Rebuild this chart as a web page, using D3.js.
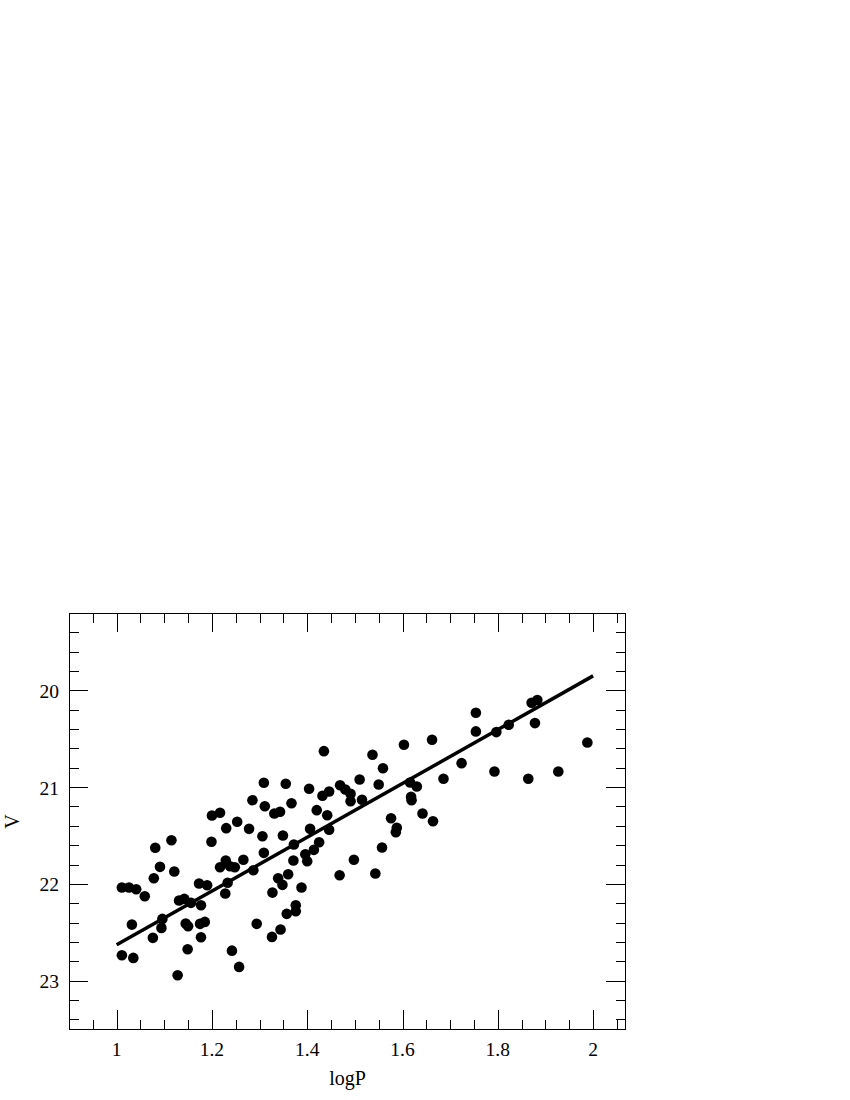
<!DOCTYPE html>
<html>
<head>
<meta charset="utf-8">
<script src="https://cdn.jsdelivr.net/npm/d3@7"></script>
<style>
  body { margin: 0; background: #fff; }
  svg { display: block; }
  text { font-family: "Liberation Serif", "DejaVu Serif", serif; fill: #000; }
</style>
</head>
<body>
<svg id="chart" width="850" height="1100"></svg>
<script>
// ---- data ----
const logP = [
  1.285,1.200,1.217,1.253,1.230,1.278,1.306,1.115,1.199,1.081,
  1.091,1.121,1.078,1.011,1.026,1.041,1.059,1.217,1.229,1.238,
  1.248,1.266,1.287,1.233,1.228,1.173,1.190,1.131,1.142,1.156,
  1.177,1.096,1.094,1.032,1.145,1.150,1.175,1.185,1.177,1.076,
  1.149,1.242,1.257,1.011,1.035,1.128,1.294,
  1.435,1.537,1.603,1.662,1.559,1.686,1.309,1.355,1.510,1.550,
  1.469,1.480,1.491,1.491,1.404,1.432,1.446,1.515,1.311,1.367,
  1.331,1.343,1.420,1.442,1.618,1.619,1.616,1.630,1.576,1.642,
  1.664,1.349,1.406,1.446,1.588,1.586,1.557,1.309,1.372,1.425,
  1.414,1.396,1.400,1.371,1.498,1.339,1.348,1.360,1.468,1.543,
  1.388,1.327,1.376,1.376,1.357,1.344,1.326,
  1.883,1.871,1.754,1.754,1.797,1.823,1.878,1.988,1.724,1.793,
  1.864,1.927
];
const Vmag = [
  21.135,21.293,21.265,21.358,21.424,21.431,21.507,21.549,21.565,21.627,
  21.824,21.872,21.942,22.038,22.038,22.055,22.128,21.828,21.759,21.818,
  21.828,21.751,21.859,21.989,22.100,21.996,22.014,22.172,22.155,22.196,
  22.221,22.362,22.455,22.421,22.410,22.438,22.413,22.393,22.552,22.558,
  22.676,22.690,22.858,22.738,22.765,22.945,22.413,
  20.628,20.665,20.562,20.510,20.804,20.913,20.955,20.965,20.921,20.972,
  20.980,21.024,21.069,21.145,21.017,21.089,21.045,21.131,21.197,21.166,
  21.272,21.255,21.238,21.290,21.100,21.135,20.952,20.993,21.321,21.272,
  21.352,21.500,21.431,21.441,21.420,21.466,21.624,21.679,21.593,21.569,
  21.648,21.693,21.766,21.759,21.751,21.942,22.010,21.900,21.911,21.893,
  22.038,22.090,22.221,22.283,22.310,22.472,22.548,
  20.100,20.127,20.231,20.424,20.431,20.355,20.338,20.538,20.752,20.838,
  20.913,20.838
];
// fit line endpoints
const fitX = [1.0, 2.0];
const fitV = [22.63, 19.85];
// ticks
const xMajorTicks = [1, 1.2, 1.4, 1.6, 1.8, 2];
const xTickLabels = ["1", "1.2", "1.4", "1.6", "1.8", "2"];
const yMajorTicks = [20, 21, 22, 23];
const yTickLabels = ["20", "21", "22", "23"];
const xLabel = "logP";
const yLabel = "V";

// ---- layout ----
const pL = 69, pR = 625, pT = 613, pB = 1029;
const x = d3.scaleLinear().domain([0.9, 2.067]).range([pL, pR]);
const y = d3.scaleLinear().domain([19.2, 23.5]).range([pT, pB]);

const svg = d3.select("#chart");

const xMinor = d3.range(0.95, 2.06, 0.05).map(v => +v.toFixed(2));
const yMinor = d3.range(19.4, 23.45, 0.2).map(v => +v.toFixed(1));
const isMajX = v => xMajorTicks.some(t => Math.abs(t - v) < 1e-6);
const isMajY = v => yMajorTicks.some(t => Math.abs(t - v) < 1e-6);
const majLen = 19, minLen = 9.5;

const g = svg.append("g");

// ticks (inward, all four sides)
const tk = g.append("g").attr("stroke", "#000").attr("stroke-width", 1).attr("shape-rendering", "crispEdges");
xMinor.forEach(v => {
  const L = isMajX(v) ? majLen : minLen;
  const px = Math.round(x(v)) + 0.5;
  tk.append("line").attr("x1", px).attr("x2", px).attr("y1", pB).attr("y2", pB - L);
  tk.append("line").attr("x1", px).attr("x2", px).attr("y1", pT).attr("y2", pT + L);
});
yMinor.forEach(v => {
  const L = isMajY(v) ? majLen : minLen;
  const py = Math.round(y(v)) + 0.5;
  tk.append("line").attr("y1", py).attr("y2", py).attr("x1", pL).attr("x2", pL + L);
  tk.append("line").attr("y1", py).attr("y2", py).attr("x1", pR).attr("x2", pR - L);
});

// frame
g.append("rect").attr("x", pL + 0.5).attr("y", pT + 0.5)
  .attr("width", pR - pL).attr("height", pB - pT)
  .attr("fill", "none").attr("stroke", "#000").attr("stroke-width", 1)
  .attr("shape-rendering", "crispEdges");

// tick labels
g.selectAll("text.xt").data(xMajorTicks).enter().append("text")
  .attr("class", "xt")
  .attr("x", d => x(d)).attr("y", pB + 27)
  .attr("text-anchor", "middle").attr("font-size", 19.5)
  .text((d, i) => xTickLabels[i]);
g.selectAll("text.yt").data(yMajorTicks).enter().append("text")
  .attr("class", "yt")
  .attr("x", pL - 10).attr("y", d => y(d) + 7.5)
  .attr("text-anchor", "end").attr("font-size", 19.5)
  .text((d, i) => yTickLabels[i]);

// axis titles
g.append("text").attr("x", 347.5).attr("y", pB + 56)
  .attr("text-anchor", "middle").attr("font-size", 20).text(xLabel);
g.append("text").attr("transform", `translate(18.5, 821.5) rotate(-90)`)
  .attr("text-anchor", "middle").attr("font-size", 20).text(yLabel);

// fit line
const line = d3.line().x(d => x(d[0])).y(d => y(d[1]));
g.append("path").datum(fitX.map((v, i) => [v, fitV[i]]))
  .attr("d", line).attr("fill", "none").attr("stroke", "#000").attr("stroke-width", 3.5);

// points
g.selectAll("circle.pt").data(logP.map((v, i) => [v, Vmag[i]])).enter().append("circle")
  .attr("class", "pt")
  .attr("cx", d => x(d[0])).attr("cy", d => y(d[1])).attr("r", 5.3).attr("fill", "#000");
</script>
</body>
</html>
